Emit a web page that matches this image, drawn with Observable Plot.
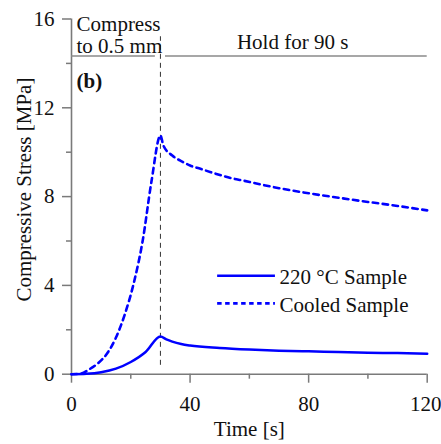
<!DOCTYPE html>
<html><head><meta charset="utf-8">
<script src="https://cdn.jsdelivr.net/npm/d3@7"></script>
<script src="https://cdn.jsdelivr.net/npm/@observablehq/plot@0.6"></script>
<style>
html,body{margin:0;padding:0;background:#fff}
#chart svg, #chart svg text{font-family:"Liberation Serif","Times New Roman",serif}
</style>
</head><body><div id="chart"></div>
<script>
// Data
const hotTime   = [0, 5, 10, 15, 20, 25, 30, 32, 34, 37, 40, 50, 60, 70, 80, 90, 100, 110, 120];
const hotStress = [0, 0.02, 0.09, 0.25, 0.55, 1.0, 1.70, 1.57, 1.47, 1.36, 1.29, 1.18, 1.11, 1.06, 1.03, 1.0, 0.97, 0.95, 0.92];

const cooledTime   = [0, 3, 6, 9, 12, 15, 18, 21, 24, 27, 30, 31, 34, 37, 40, 43.5, 47, 50.7, 54, 58, 62, 70, 80, 90, 100, 110, 120];
const cooledStress = [0, 0.02, 0.22, 0.5, 0.93, 1.65, 2.7, 4.1, 6.0, 8.7, 10.75, 10.3, 9.85, 9.6, 9.4, 9.25, 9.1, 8.95, 8.83, 8.72, 8.6, 8.38, 8.15, 7.95, 7.76, 7.58, 7.38];

const seriesNames = ["220 \u00B0C Sample", "Cooled Sample"];
const xMajorTicks = [0, 40, 80, 120];
const xMinorTicks = [20, 60, 100];
const yMajorTicks = [0, 4, 8, 12, 16];
const yMinorTicks = [2, 6, 10, 14];

const compressEnd = 30;      // s
const phaseLevel = 14.33;    // MPa, the phase divider line
const phaseLabels = ["Compress\nto 0.5 mm", "Hold for 90 s"];
const panelLabel = "(b)";
const xLabel = "Time [s]";
const yLabel = "Compressive Stress [MPa]";

const hot = hotTime.map((t, i) => ({t, s: hotStress[i]}));
const cooled = cooledTime.map((t, i) => ({t, s: cooledStress[i]}));

const blue = "#0000ff";
const axisGray = "#7a7a7a";
const lastTick = xMajorTicks[xMajorTicks.length - 1];

const chart = Plot.plot({
  width: 441,
  height: 444,
  marginLeft: 71,
  marginRight: 14.3,
  marginTop: 18.5,
  marginBottom: 70.3,
  style: {fontFamily: "Liberation Serif, serif", fontSize: "21px", background: "#fff", overflow: "visible"},
  x: {domain: [0, 120]},
  y: {domain: [0, 16]},
  marks: [
    // minor ticks
    Plot.axisX(xMinorTicks, {tickSize: 5, text: null, label: null, stroke: axisGray, strokeWidth: 1.5}),
    Plot.axisY(yMinorTicks, {tickSize: 5, text: null, label: null, stroke: axisGray, strokeWidth: 1.5}),
    // major ticks
    Plot.axisX(xMajorTicks, {tickSize: 9, text: null, label: null, stroke: axisGray, strokeWidth: 1.5}),
    Plot.axisX(xMajorTicks.filter(d => d !== lastTick), {tickSize: 0, tickPadding: 22, label: null, fill: "#111", stroke: "none"}),
    Plot.axisX([lastTick], {tickSize: 0, tickPadding: 22, dx: -1.5, label: null, fill: "#111", stroke: "none"}),
    Plot.axisY(yMajorTicks, {tickSize: 9, tickPadding: 8, label: null, stroke: axisGray, fill: "#111", strokeWidth: 1.5}),
    // axis lines
    Plot.ruleX([0], {stroke: axisGray, strokeWidth: 1.6}),
    Plot.ruleY([0], {stroke: axisGray, strokeWidth: 1.6}),
    // phase divider
    Plot.ruleY([phaseLevel], {x1: 0, x2: compressEnd - 1.7, stroke: "#8a8a8a", strokeWidth: 1.6}),
    Plot.ruleY([phaseLevel], {x1: compressEnd + 1.7, x2: 120, stroke: "#8a8a8a", strokeWidth: 1.6}),
    Plot.ruleX([compressEnd], {y1: 0.4, y2: 15.2, stroke: "#333", strokeWidth: 1, strokeDasharray: "5,4"}),
    // data
    Plot.line(cooled, {x: "t", y: "s", stroke: blue, strokeWidth: 2.6, strokeDasharray: "5.5,4.5", curve: "monotone-x"}),
    Plot.line(hot, {x: "t", y: "s", stroke: blue, strokeWidth: 2.5, curve: "monotone-x"}),
    // annotations
    Plot.text([phaseLabels[0]], {x: 1.7, y: 14.45, textAnchor: "start", lineAnchor: "bottom", lineHeight: 1.05, fill: "#111"}),
    Plot.text([phaseLabels[1]], {x: 55.8, y: 14.67, textAnchor: "start", lineAnchor: "bottom", fill: "#111"}),
    Plot.text([panelLabel], {x: 1.7, y: 12.9, textAnchor: "start", lineAnchor: "bottom", fontWeight: "bold", fill: "#111"}),
    // legend
    Plot.ruleY([4.44], {x1: 49.3, x2: 68.8, stroke: blue, strokeWidth: 2.5}),
    Plot.ruleY([3.19], {x1: 49.3, x2: 68.8, stroke: blue, strokeWidth: 2.6, strokeDasharray: "4.5,3.5"}),
    Plot.text(seriesNames, {x: 70.2, y: (d, i) => 4.44 - i * 1.25, dy: 2, textAnchor: "start", lineAnchor: "middle", fill: "#111"}),
    // axis labels
    Plot.text([xLabel], {frameAnchor: "bottom", dy: 62, textAnchor: "middle", lineAnchor: "bottom", fill: "#111"}),
    Plot.text([yLabel], {frameAnchor: "left", dx: -47, dy: -7, rotate: -90, textAnchor: "middle", lineAnchor: "middle", fill: "#111"})
  ]
});
document.getElementById("chart").appendChild(chart);
</script>
</body></html>
